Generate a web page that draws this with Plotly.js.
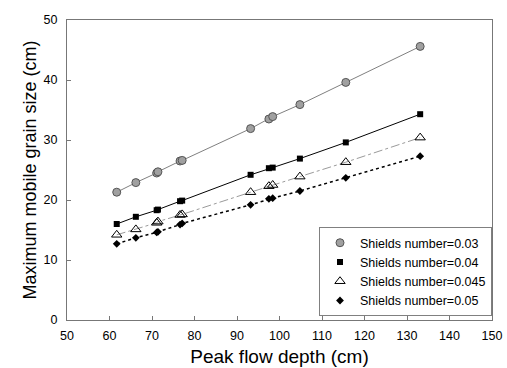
<!DOCTYPE html>
<html><head><meta charset="utf-8">
<script src="https://cdn.plot.ly/plotly-3.0.1.min.js"></script>
<style>html,body{margin:0;padding:0;background:#fff}
#chart{width:507px;height:368px}
</style>
</head><body><div id="chart"></div>
<script>
const depth = [61.7, 66.2, 71.1, 71.4, 76.6, 77.1, 93.2, 97.5, 98.4, 104.8, 115.6, 133.1];
const seriesNames = ["Shields number=0.03", "Shields number=0.04", "Shields number=0.045", "Shields number=0.05"];
const s003 = [21.3, 22.9, 24.5, 24.7, 26.5, 26.6, 31.9, 33.5, 33.9, 35.9, 39.6, 45.6];
const s004 = [16.0, 17.2, 18.3, 18.4, 19.8, 19.9, 24.2, 25.3, 25.4, 26.9, 29.6, 34.3];
const s0045 = [14.2, 15.1, 16.2, 16.4, 17.5, 17.6, 21.3, 22.3, 22.5, 23.9, 26.3, 30.4];
const s005 = [12.7, 13.7, 14.6, 14.7, 15.9, 16.1, 19.2, 20.2, 20.3, 21.5, 23.7, 27.3];

const ys = [s003, s004, s0045, s005];
const lineStyles = [
  {color: '#808080', width: 1, dash: 'solid'},
  {color: '#000000', width: 1, dash: 'solid'},
  {color: '#9a9a9a', width: 1, dash: 'dashdot'},
  {color: '#000000', width: 1.5, dash: 'dot'}
];
const markers = [
  {symbol: 'circle', size: 8, color: '#a0a0a0', line: {color: '#555', width: 1}},
  {symbol: 'square', size: 6, color: '#000', line: {color: '#000', width: 0}},
  {symbol: 'triangle-up-open', size: 9, color: '#000', line: {color: '#000', width: 1}},
  {symbol: 'diamond', size: 6, color: '#000', line: {color: '#000', width: 0}}
];
const traces = [];
ys.forEach((y, i) => {
  traces.push({x: depth, y: y, mode: 'lines', line: lineStyles[i], showlegend: false, hoverinfo: 'skip'});
});
ys.forEach((y, i) => {
  traces.push({x: depth, y: y, mode: 'markers', name: seriesNames[i], marker: markers[i]});
});
const font = {family: 'Arial, "Liberation Sans", sans-serif', color: '#000'};
const layout = {
  width: 507, height: 368,
  margin: {l: 67, r: 15, t: 20, b: 48},
  paper_bgcolor: '#fff', plot_bgcolor: '#fff',
  font: Object.assign({size: 12}, font),
  showlegend: true,
  legend: {x: 1, y: 0.013, xanchor: 'right', yanchor: 'bottom', bgcolor: '#fff',
           bordercolor: '#808080', borderwidth: 1, font: Object.assign({size: 12.5}, font),
           itemwidth: 30, tracegroupgap: 0},
  xaxis: {range: [50, 150], dtick: 10, tick0: 50, ticks: 'inside', ticklen: 4, tickcolor: '#777',
          showgrid: false, zeroline: false, showline: true, linecolor: '#777', linewidth: 1, mirror: true,
          tickfont: Object.assign({size: 12.5}, font), ticklabelstandoff: 4, fixedrange: true,
          title: {text: 'Peak flow depth (cm)', font: Object.assign({size: 19}, font), standoff: 7}},
  yaxis: {range: [0, 50], dtick: 10, tick0: 0, ticks: 'inside', ticklen: 4, tickcolor: '#777',
          showgrid: false, zeroline: false, showline: true, linecolor: '#777', linewidth: 1, mirror: true,
          tickfont: Object.assign({size: 12.5}, font), ticklabelstandoff: 6, fixedrange: true,
          title: {text: 'Maximum mobile grain size (cm)', font: Object.assign({size: 18}, font), standoff: 2}}
};
Plotly.newPlot('chart', traces, layout, {staticPlot: true, displayModeBar: false});
</script></body></html>
